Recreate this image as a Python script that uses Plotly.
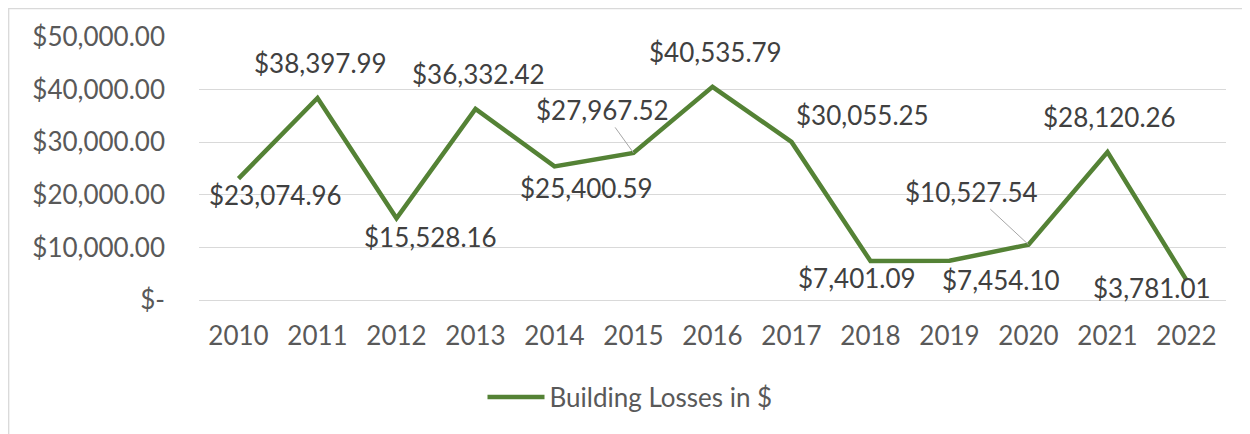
import plotly.graph_objects as go

years = ["2010", "2011", "2012", "2013", "2014", "2015", "2016",
         "2017", "2018", "2019", "2020", "2021", "2022"]
losses = [23074.96, 38397.99, 15528.16, 36332.42, 25400.59, 27967.52, 40535.79,
          30055.25, 7401.09, 7454.10, 10527.54, 28120.26, 3781.01]
series_name = "Building Losses in $"
y_tickvals = [0, 10000, 20000, 30000, 40000, 50000]
y_ticktext = ["$-", "$10,000.00", "$20,000.00", "$30,000.00", "$40,000.00", "$50,000.00"]

# label placement (pixel offsets from the point); True = leader line
label_offsets = [(37, -16, False), (3, 35, False), (34, -19, False), (3, 35, False),
                 (32, -22, False), (-31, 43, True), (3, 35, False), (71, 27, False),
                 (-14, -17, False), (51, -19, False), (-57, 53, True), (2, 35, False),
                 (-35, -8, False)]

FONT = "Lato"
FS = 26
TXT = "#595959"
LBL = "#404040"
GREEN = "#548235"

# page body has an 8px margin; figure is sized/offset to compensate
W, H = 1242, 426
L, T, R, B = 191, 29, 24, 134
PW = W - L - R
PH = H - T - B

fig = go.Figure()
fig.add_trace(go.Scatter(x=years, y=losses, mode="lines", name=series_name,
                         line=dict(color=GREEN, width=4.5), hoverinfo="skip"))

anns = []
for i, (v, (dx, dy, arrow)) in enumerate(zip(losses, label_offsets)):
    txt = "$" + format(v, ",.2f")
    if arrow:
        anns.append(dict(x=i, y=v, xref="x", yref="y", text=txt, showarrow=True,
                         ax=dx, ay=-dy, arrowhead=0, arrowwidth=1, arrowcolor="#A6A6A6",
                         standoff=0, font=dict(family=FONT, size=FS, color=LBL)))
    else:
        anns.append(dict(x=i, y=v, xref="x", yref="y", text=txt, showarrow=False,
                         xshift=dx, yshift=dy, font=dict(family=FONT, size=FS, color=LBL)))

fig.update_layout(
    width=W, height=H,
    margin=dict(l=L, r=R, t=T, b=B, autoexpand=False),
    paper_bgcolor="white", plot_bgcolor="white",
    font=dict(family=FONT, size=FS, color=TXT),
    annotations=anns,
    showlegend=True,
    legend=dict(orientation="h", x=(630 - 8 - L) / PW, xanchor="center",
                y=(300 - 397) / PH, yanchor="middle",
                font=dict(family=FONT, size=FS, color=TXT), itemwidth=57),
    xaxis=dict(type="category", range=[-0.5, 12.5], showgrid=False, showline=False,
               ticks="", ticklabelstandoff=18,
               tickfont=dict(family=FONT, size=FS, color=TXT), ticklen=0),
    yaxis=dict(range=[0, 50000], tickvals=y_tickvals, ticktext=y_ticktext,
               showgrid=True, gridcolor="#D9D9D9", gridwidth=1.3, zeroline=True,
               zerolinecolor="#D9D9D9", zerolinewidth=1.3, showline=False, ticks="",
               ticklabelstandoff=33, tickfont=dict(family=FONT, size=FS, color=TXT)),
    shapes=[dict(type="rect", xref="paper", yref="paper",
                 x0=(0.7 - L) / PW, x1=(W + 10 - L) / PW,
                 y0=-(H + 10 - T - PH) / PH, y1=(PH + T - 0.7) / PH,
                 line=dict(color="#D9D9D9", width=1.3), fillcolor="rgba(0,0,0,0)",
                 layer="below")],
)

fig.write_html("out.html")
